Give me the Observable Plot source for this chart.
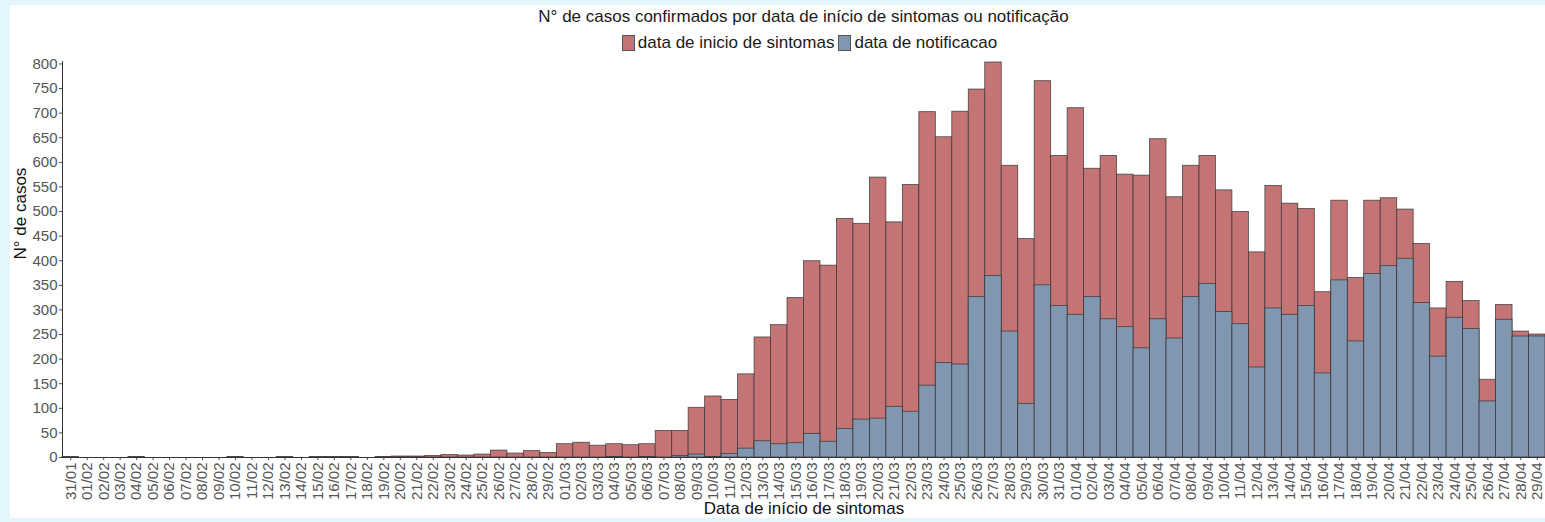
<!DOCTYPE html>
<html><head><meta charset="utf-8">
<script src="https://cdn.jsdelivr.net/npm/d3@7"></script>
<script src="https://cdn.jsdelivr.net/npm/@observablehq/plot@0.6"></script>
<style>
body{margin:0;background:#e2f6fc;font-family:"Liberation Sans",Arial,sans-serif;}
#panel{position:absolute;left:10px;top:5px;width:1535px;height:513px;background:#fff;}
#title{position:absolute;top:2px;left:52px;width:1483px;text-align:center;font-size:17px;line-height:20px;color:#1a1a1a;}
#legend{position:absolute;top:28px;left:60px;width:1483px;display:flex;justify-content:center;align-items:center;font-size:17px;line-height:20px;color:#1a1a1a;}
#legend .sw{display:inline-block;width:11px;height:14px;border:1px solid #555;margin-right:3px;}
#legend .item{display:flex;align-items:center;margin-right:4px;}
#chart{position:absolute;top:50px;left:0;}
</style></head>
<body>
<div id="panel">
  <div id="title">N° de casos confirmados por data de início de sintomas ou notificação</div>
  <div id="legend"></div>
  <div id="chart"></div>
</div>
<script>
const dates = ["31/01",
"01/02","02/02","03/02","04/02","05/02","06/02","07/02","08/02","09/02","10/02",
"11/02","12/02","13/02","14/02","15/02","16/02","17/02","18/02","19/02","20/02",
"21/02","22/02","23/02","24/02","25/02","26/02","27/02","28/02","29/02",
"01/03","02/03","03/03","04/03","05/03","06/03","07/03","08/03","09/03","10/03",
"11/03","12/03","13/03","14/03","15/03","16/03","17/03","18/03","19/03","20/03",
"21/03","22/03","23/03","24/03","25/03","26/03","27/03","28/03","29/03","30/03","31/03",
"01/04","02/04","03/04","04/04","05/04","06/04","07/04","08/04","09/04","10/04",
"11/04","12/04","13/04","14/04","15/04","16/04","17/04","18/04","19/04","20/04",
"21/04","22/04","23/04","24/04","25/04","26/04","27/04","28/04","29/04"];

const inicioSintomas = [1,
0,0,0,1,0,0,0,0,0,1,
0,0,1,0,1,1,1,0,1,2,
2,3,5,4,6,14,8,13,9,
27,30,24,27,25,27,54,54,101,124,
117,169,244,269,324,399,390,485,475,569,
478,554,702,651,703,748,803,593,444,765,613,
710,587,613,575,573,647,529,593,613,543,
499,417,552,516,505,336,522,365,522,527,
504,434,303,357,318,158,310,256,250];

const notificacao = [0,
0,0,0,0,0,0,0,0,0,0,
0,0,0,0,0,0,0,0,0,0,
0,0,0,0,0,0,0,0,0,
0,0,0,1,0,1,0,3,6,1,
7,18,33,27,29,48,32,58,77,79,
103,93,146,192,189,326,369,256,109,350,308,
290,326,281,265,222,281,242,326,353,296,
271,183,303,290,308,171,360,236,373,389,
404,314,205,284,261,114,280,246,246];

const yTicks = [0,50,100,150,200,250,300,350,400,450,500,550,600,650,700,750,800];
const seriesNames = ["data de inicio de sintomas","data de notificacao"];
const seriesColors = ["#c47474","#8197af"];

const sint = dates.map((d,i)=>({date:d, value:inicioSintomas[i]})).filter(d=>d.value>0);
const notif = dates.map((d,i)=>({date:d, value:notificacao[i]})).filter(d=>d.value>0);

const leg = document.getElementById("legend");
seriesNames.forEach((n,i)=>{
  const it = document.createElement("span"); it.className="item";
  const sw = document.createElement("span"); sw.className="sw"; sw.style.background=seriesColors[i];
  it.appendChild(sw); it.appendChild(document.createTextNode(n));
  leg.appendChild(it);
});

const plot = Plot.plot({
  width: 1535, height: 466,
  marginLeft: 52, marginRight: 0, marginTop: 6, marginBottom: 64,
  style: {fontFamily: "'Liberation Sans', Arial, sans-serif", fontSize: "15px", color: "#4d4d4d", background: "transparent", overflow: "visible"},
  x: {type: "band", domain: dates, padding: 0, label: null},
  y: {domain: [0, 805], label: null},
  marks: [
    Plot.barY(sint, {x: "date", y: "value", fill: seriesColors[0], stroke: "#333", strokeWidth: 0.8, strokeOpacity: 0.85}),
    Plot.barY(notif, {x: "date", y: "value", fill: seriesColors[1], stroke: "#333", strokeWidth: 0.8, strokeOpacity: 0.85}),
    Plot.axisX({tickRotate: -90, tickSize: 3, tickPadding: 2, fontSize: 15, fill: "#555", label: null}),
    Plot.axisY({ticks: yTicks, tickSize: 3, tickPadding: 2, fontSize: 15, fill: "#555", label: null}),
    Plot.ruleY([0], {stroke: "#333"}),
    Plot.frame({anchor: "left", stroke: "#333"}),
    Plot.text(["Data de início de sintomas"], {frameAnchor: "bottom", dy: 56, fontSize: 17, fill: "#111"}),
    Plot.text(["N° de casos"], {frameAnchor: "left", rotate: -90, dx: -42, fontSize: 17, fill: "#111"})
  ]
});
document.getElementById("chart").appendChild(plot);
</script>
</body></html>
